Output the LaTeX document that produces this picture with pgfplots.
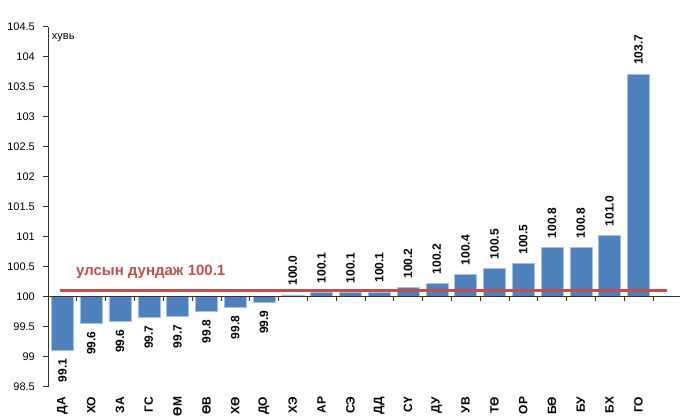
\documentclass[border=0pt]{standalone}
\usepackage{fontspec}
\setmainfont{Liberation Sans}
\usepackage{pgfplots}
\usepackage{pgfplotstable}
\pgfplotsset{compat=1.18}
\pgfkeys{/pgf/number format/assume math mode=true}
\definecolor{barblue}{RGB}{79,129,189}
\definecolor{baredge}{RGB}{165,192,224}
\definecolor{avgred}{RGB}{192,80,77}

% index by region, previous month = 100 (v = bar height, lbl = printed value)
\pgfplotstableread{
x v      lbl
1 99.10  99.1
2 99.56  99.6
3 99.59  99.6
4 99.66  99.7
5 99.67  99.7
6 99.75  99.8
7 99.82  99.8
8 99.91  99.9
}\below
\pgfplotstableread{
x  v      lbl
9  100.03 100.0
10 100.07 100.1
11 100.07 100.1
12 100.08 100.1
13 100.15 100.2
14 100.22 100.2
15 100.37 100.4
16 100.47 100.5
17 100.55 100.5
18 100.82 100.8
19 100.82 100.8
20 101.02 101.0
21 103.71 103.7
}\above

\begin{document}
\begin{tikzpicture}
\begin{axis}[
  scale only axis, width=633.6pt, height=360pt,
  xmin=0.5, xmax=22.5, ymin=98.5, ymax=104.5,
  y coord trafo/.code={\pgfmathparse{#1-100}},
  y coord inv trafo/.code={\pgfmathparse{#1+100}},
  axis y line*=left, axis x line*=bottom,
  x axis line style={draw=none},
  y axis line style={black!80, line width=0.6pt},
  ytick={98.5,99,99.5,100,100.5,101,101.5,102,102.5,103,103.5,104,104.5},
  yticklabels={98.5,99,99.5,100,100.5,101,101.5,102,102.5,103,103.5,104,104.5},
  ytick align=outside, ytick style={black!80, line width=0.6pt},
  major tick length=5pt,
  yticklabel style={font=\fontsize{11}{13}\selectfont, inner sep=0pt, xshift=-8pt},
  xtick={1,...,21},
  xticklabels={ДА,ХО,ЗА,ГС,ӨМ,ӨВ,ХӨ,ДО,ХЭ,АР,СЭ,ДД,СҮ,ДУ,УВ,ТӨ,ОР,БӨ,БУ,БХ,ГО},
  xtick align=inside, xtick style={draw=none},
  xticklabel style={font=\fontsize{12}{14}\selectfont\bfseries, rotate=90,
    anchor=east, inner sep=0pt, inner xsep=10pt},
  clip=false,
]
\addplot[ybar, bar width=22pt, bar shift=0pt, fill=barblue, draw=baredge,
  line width=0.5pt, point meta=explicit,
  nodes near coords={\pgfmathprintnumber[fixed,fixed zerofill,precision=1]{\pgfplotspointmeta}},
  nodes near coords style={font=\fontsize{12}{14}\selectfont\bfseries,
    rotate=90, anchor=east, inner sep=0pt, inner xsep=8pt}]
  table[x=x, y=v, meta=lbl] {\below};
\addplot[ybar, bar width=22pt, bar shift=0pt, fill=barblue, draw=baredge,
  line width=0.5pt, point meta=explicit,
  nodes near coords={\pgfmathprintnumber[fixed,fixed zerofill,precision=1]{\pgfplotspointmeta}},
  nodes near coords style={font=\fontsize{12}{14}\selectfont\bfseries,
    rotate=90, anchor=west, inner sep=0pt, inner xsep=9pt}]
  table[x=x, y=v, meta=lbl] {\above};
\draw[black!80, line width=0.6pt] (axis cs:0.5,100) -- (axis cs:22.5,100);
\pgfplotsinvokeforeach{1,...,22}{
  \draw[black!80, line width=0.6pt] (axis cs:#1-0.5,100) -- (axis cs:#1-0.5,99.933);
}
% national average
\addplot[avgred, line width=3.5pt] coordinates {(0.92,100.1) (22,100.1)};
\node[anchor=west, inner sep=0pt, text=avgred,
  font=\fontsize{15}{18}\selectfont\bfseries] at (axis cs:1.47,100.42)
  {улсын дундаж 100.1};
\node[anchor=west, inner sep=0pt, font=\fontsize{11}{13}\selectfont]
  at (rel axis cs:0.006,0.969) {хувь};
\end{axis}
\pgfresetboundingbox
\path (-48pt,-29.3pt) rectangle (632pt,386.7pt);
\end{tikzpicture}
\end{document}
